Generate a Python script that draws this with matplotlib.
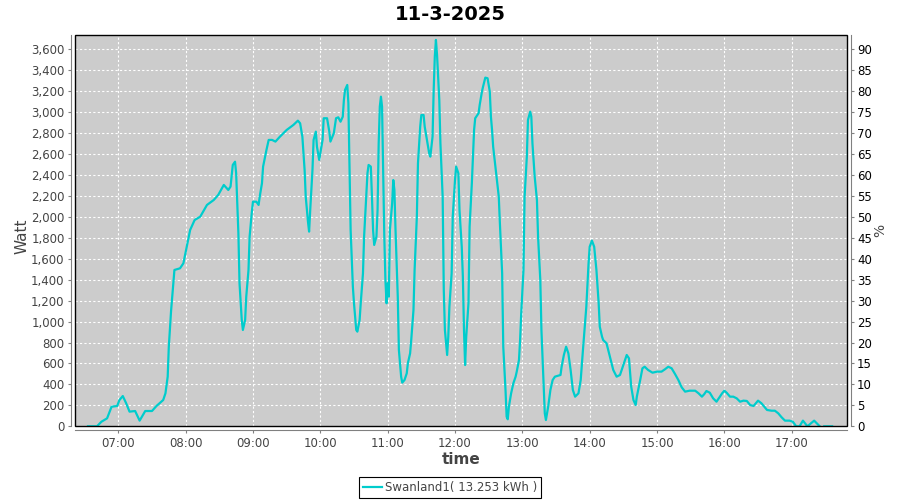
import matplotlib
matplotlib.use('Agg')
import matplotlib.pyplot as plt
import matplotlib.dates as mdates
from matplotlib.ticker import FuncFormatter, MultipleLocator
from matplotlib.patches import Rectangle
import numpy as np
import pandas as pd

datum = '2025-03-11'
naslov = '11-3-2025'
oznaka = 'Swanland1( 13.253 kWh )'

# ure in moc (W), odčitano z grafa; None = prekinitev podatkov
ure = ['06:33', '06:37', '06:41', '06:45', '06:50', '06:54', '06:59', '07:01', '07:04', '07:07',
       '07:10', '07:15', '07:19', '07:24', '07:30', '07:34', '07:40', '07:42', '07:44', '07:45',
       '07:47', '07:49', '07:50', '07:55', '07:58', '08:01', '08:04', '08:08', '08:13', '08:19',
       '08:25', '08:29', '08:34', '08:38', '08:40', '08:42', '08:44', '08:45', '08:46', '08:47',
       '08:48', '08:50', '08:51', '08:53', '08:54', '08:56', '08:57', '08:59', '09:00', '09:03',
       '09:05', '09:06', '09:08', '09:09', '09:12', '09:14', '09:17', '09:20', '09:24', '09:30',
       '09:36', '09:40', '09:42', '09:44', '09:46', '09:47', '09:49', '09:50', '09:51', '09:53',
       '09:54', '09:56', '09:57', '09:59', '10:00', '10:02', '10:03', '10:06', '10:08', '10:09',
       '10:12', '10:14', '10:16', '10:18', '10:20', '10:21', '10:22', '10:24', '10:25', '10:26',
       '10:27', '10:29', '10:30', '10:32', '10:33', '10:35', '10:36', '10:38', '10:39', '10:41',
       '10:42', '10:43', '10:45', '10:46', '10:47', '10:48', '10:50', '10:51', '10:52', '10:53',
       '10:54', '10:55', '10:56', '10:57', '10:58', '10:59', '11:00', '11:01', '11:02', '11:04',
       '11:05', '11:06', '11:07', '11:08', '11:09', '11:10', '11:12', '11:13', '11:15', '11:17',
       '11:18', '11:20', '11:21', '11:23', '11:24', '11:26', '11:27', '11:29', '11:30', '11:32',
       '11:33', '11:35', '11:37', '11:38', '11:40', '11:41', '11:42', '11:43', '11:44', '11:46',
       '11:47', '11:49', '11:50', '11:51', '11:53', '11:54', '11:55', '11:57', '11:58', '12:00',
       '12:01', '12:03', '12:04', '12:06', '12:07', '12:08', '12:09', '12:10', '12:12', '12:13',
       '12:15', '12:16', '12:17', '12:18', '12:21', '12:22', '12:24', '12:25', '12:27', '12:29',
       '12:31', '12:32', '12:33', '12:34', '12:36', '12:37', '12:39', '12:40', '12:42', '12:43',
       '12:45', '12:46', '12:47', '12:48', '12:50', '12:52', '12:54', '12:55', '12:57', '12:58',
       '12:59', '13:01', '13:02', '13:04', '13:05', '13:07', '13:08', '13:09', '13:11', '13:13',
       '13:14', '13:16', '13:17', '13:19', '13:20', '13:21', '13:23', '13:25', '13:27', '13:29',
       '13:34', '13:35', '13:37', '13:39', '13:41', '13:43', '13:45', '13:47', '13:50', '13:52',
       '13:54', '13:57', '13:59', '14:00', '14:02', '14:04', '14:06', '14:08', '14:09', '14:11',
       '14:12', '14:15', '14:18', '14:21', '14:24', '14:27', '14:30', '14:33', '14:35', '14:37',
       '14:39', '14:41', '14:42', '14:45', '14:47', '14:49', '14:52', '14:56', '15:00', '15:04',
       '15:07', '15:10', '15:13', '15:16', '15:19', '15:22', '15:25', '15:29', '15:34', '15:37',
       '15:40', '15:42', '15:44', '15:47', '15:50', '15:53', '15:55', '15:58', '16:00', '16:02',
       '16:05', '16:08', '16:11', '16:14', '16:17', '16:20', '16:23', '16:26', '16:28', '16:30',
       '16:33', '16:36', '16:38', '16:42', '16:45', '16:48', '16:51', '16:54', '16:58', '17:01',
       '17:04', '17:07', '17:10', '17:14', '17:20', '17:25', '17:27', '17:29', '17:36']

moc = [0, 0, 0, 44, 76, 187, 194, 251, 289, 220,
       140, 146, 54, 146, 146, 194, 251, 315, 474, 760,
       1100, 1366, 1493, 1509, 1557, 1715, 1875, 1970, 2002, 2114,
       2161, 2209, 2305, 2257, 2289, 2496, 2527, 2416, 2130, 1843,
       1366, 1015, 920, 1015, 1238, 1493, 1812, 2050, 2145, 2145,
       2114, 2193, 2321, 2480, 2639, 2735, 2735, 2719, 2766, 2830,
       2878, 2919, 2894, 2766, 2448, 2193, 1954, 1859, 2066, 2448,
       2735, 2814, 2670, 2544, 2607, 2735, 2942, 2942, 2814, 2719,
       2798, 2942, 2951, 2909, 2957, 3116, 3212, 3260, 3085, 2480,
       1875, 1333, 1175, 920, 904, 1015, 1175, 1461, 1812, 2225,
       2416, 2496, 2480, 2193, 1875, 1732, 1812, 2066, 2703, 3053,
       3148, 3053, 2448, 1812, 1397, 1175, 1366, 1238, 1875, 2130,
       2352, 2257, 1875, 1557, 1238, 729, 474, 417, 442, 506,
       602, 697, 824, 1111, 1493, 2002, 2512, 2862, 2973, 2973,
       2862, 2735, 2607, 2575, 2766, 3212, 3530, 3690, 3546, 3116,
       2703, 2193, 1302, 920, 681, 856, 1142, 1461, 2002, 2352,
       2480, 2416, 2066, 1715, 1429, 920, 585, 856, 1175, 1906,
       2321, 2575, 2830, 2942, 2990, 3069, 3196, 3244, 3330, 3324,
       3196, 2957, 2830, 2670, 2480, 2384, 2193, 1938, 1461, 760,
       347, 92, 67, 187, 315, 411, 474, 522, 633, 824,
       1079, 1493, 2193, 2575, 2925, 3005, 2957, 2703, 2384, 2161,
       1812, 1397, 920, 378, 124, 60, 187, 347, 442, 474,
       490, 569, 681, 760, 697, 538, 347, 283, 315, 442,
       729, 1142, 1557, 1715, 1773, 1715, 1493, 1175, 951, 856,
       824, 793, 665, 538, 474, 490, 585, 681, 649, 378,
       251, 203, 283, 442, 554, 569, 538, 512, 522, 522,
       544, 569, 554, 500, 442, 372, 331, 340, 340, 315,
       283, 306, 337, 321, 267, 235, 267, 315, 340, 321,
       283, 283, 267, 235, 245, 242, 203, 194, 220, 245,
       220, 181, 156, 149, 149, 124, 86, 54, 54, 44,
       0, 0, 54, 0, 54, 0, None, 0, 0]

y_ticki_desno = list(range(0, 95, 5))

casi = pd.to_datetime([datum + ' ' + u for u in ure])
vrednosti = np.array([np.nan if v is None else v for v in moc], dtype=float)

siva = '#808080'
temna = '#444444'

fig = plt.figure(figsize=(9, 5), dpi=100)
ax = fig.add_axes([75 / 900, 73.7 / 500, 771.7 / 900, 391.3 / 500])
ax.set_facecolor('#CCCCCC')

ax.plot(casi, vrednosti, color='#00CCCC', lw=1.6, label=oznaka, zorder=3)

ax.set_xlim(pd.Timestamp(datum + ' 06:21:25'), pd.Timestamp(datum + ' 17:49:00'))
ax.set_ylim(0, 3737)
ax.yaxis.set_major_locator(MultipleLocator(200))
ax.yaxis.set_major_formatter(FuncFormatter(lambda v, p: f'{v:,.0f}'))
ax.xaxis.set_major_locator(mdates.HourLocator())
ax.xaxis.set_major_formatter(mdates.DateFormatter('%H:%M'))

ax.set_axisbelow(True)
ax.grid(True, color='white', linestyle=(0, (2, 2)), linewidth=0.8)

for s in ['left', 'bottom']:
    ax.spines[s].set_position(('outward', 3))
    ax.spines[s].set_color(siva)
for s in ['top', 'right']:
    ax.spines[s].set_visible(False)
ax.tick_params(length=2.5, width=0.8, color=siva, labelcolor=temna, labelsize=8.5, pad=2)

# desna os v %
ax2 = ax.twinx()
ax2.set_ylim(0, 3737 / 40)
ax2.set_yticks(y_ticki_desno)
for s in ['left', 'bottom', 'top']:
    ax2.spines[s].set_visible(False)
ax2.spines['right'].set_position(('outward', 3))
ax2.spines['right'].set_color(siva)
ax2.tick_params(length=2.5, width=0.8, color=siva, labelcolor='black', labelsize=8.5, pad=2)

# okvir risalne površine
ax.add_patch(Rectangle((0, 0), 1, 1, transform=ax.transAxes, fill=False,
                       edgecolor='black', linewidth=1, clip_on=False, zorder=5))

fig.text(0.5, 1 - 15 / 500, naslov, ha='center', va='center', fontsize=14, fontweight='bold')
fig.text(22 / 900, 1 - 236 / 500, 'Watt', ha='center', va='center', rotation=90,
         fontsize=11, color=temna)
fig.text(880 / 900, 1 - 230 / 500, '%', ha='center', va='center', rotation=90,
         fontsize=10, color=temna)
fig.text(461 / 900, 1 - 459 / 500, 'time', ha='center', va='center',
         fontsize=11, fontweight='bold', color=temna)

leg = fig.legend(loc='center', bbox_to_anchor=(0.5, 1 - 487.5 / 500), fancybox=False,
                 edgecolor='black', framealpha=1, fontsize=8.5, handlelength=1.6,
                 handletextpad=0.3, borderpad=0.35, borderaxespad=0)
leg.get_frame().set_linewidth(0.8)
for t in leg.get_texts():
    t.set_color(temna)

fig.savefig('out.png', dpi=100)
plt.close(fig)
